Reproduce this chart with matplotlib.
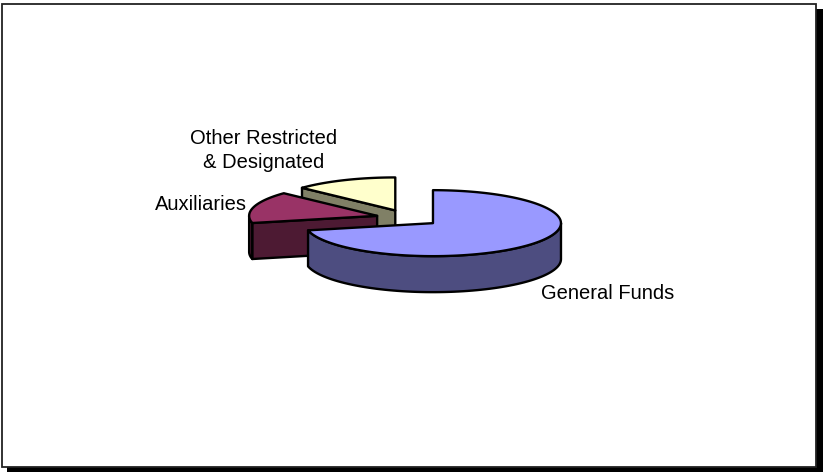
import numpy as np
import matplotlib
matplotlib.use("Agg")
import matplotlib.pyplot as plt
from matplotlib.patches import Polygon, Rectangle

# data
labels = ["General Funds", "Auxiliaries", "Other Restricted\n& Designated"]
shares = [71.5, 15.5, 13.0]
top_colors = ["#9999FF", "#993366", "#FFFFCC"]
side_colors = ["#4D4D80", "#4D1A33", "#808066"]

W, H = 825, 472
fig = plt.figure(figsize=(W / 100, H / 100), dpi=100)
ax = fig.add_axes([0, 0, 1, 1])
ax.set_xlim(0, W)
ax.set_ylim(H, 0)
ax.axis("off")

# frame with drop shadow
ax.add_patch(Rectangle((816, 9), 7, 463, color="black", lw=0, zorder=1))
ax.add_patch(Rectangle((7, 467), 816, 5, color="black", lw=0, zorder=1))
ax.add_patch(Rectangle((1.5, 4), 814.5, 463, facecolor="white", edgecolor="#222222", lw=1.3, zorder=2))

# 3-D pie geometry (pixels)
cx, cy = 408, 218
a, b = 128, 33
depth = 36
explode = 0.25
lw = 1.7


def rim(ox, oy, th, dz=0):
    t = np.radians(th)
    return ox + a * np.cos(t), oy - b * np.sin(t) + dz


# slices go clockwise from 12 o'clock
angles = []
start = 90.0
for s in shares:
    end = start - 360.0 * s / 100.0
    angles.append((end, start))  # counter-clockwise from th1 to th2
    start = end

pieces = []
for i, (th1, th2) in enumerate(angles):
    mid = np.radians((th1 + th2) / 2)
    ox = cx + explode * a * np.cos(mid)
    oy = cy - explode * b * np.sin(mid)
    pieces.append((i, th1, th2, ox, oy))

# paint back slices first
order = [2, 1, 0]
z = 3
for i in order:
    _, th1, th2, ox, oy = pieces[i]
    # radial faces that face the viewer
    for th, normal in ((th1, th1 - 90), (th2, th2 + 90)):
        if np.sin(np.radians(normal)) < -1e-6:
            p = rim(ox, oy, th)
            quad = [(ox, oy), p, (p[0], p[1] + depth), (ox, oy + depth)]
            ax.add_patch(Polygon(quad, closed=True, facecolor=side_colors[i],
                                 edgecolor="black", lw=lw, joinstyle="round", zorder=z))
            z += 1
    # outer curved side, front half only
    lo, hi = th1, th2
    segs = []
    for k in (-360, 0, 360):
        s0 = max(lo + k, 180)
        s1 = min(hi + k, 360)
        if s1 > s0:
            segs.append((s0, s1))
    for s0, s1 in segs:
        ts = np.linspace(s0, s1, 80)
        upper = [rim(ox, oy, t) for t in ts]
        lower = [rim(ox, oy, t, depth) for t in ts[::-1]]
        ax.add_patch(Polygon(upper + lower, closed=True, facecolor=side_colors[i],
                             edgecolor="black", lw=lw, joinstyle="round", zorder=z))
        z += 1
    # top face
    ts = np.linspace(th1, th2, 120)
    top = [(ox, oy)] + [rim(ox, oy, t) for t in ts]
    ax.add_patch(Polygon(top, closed=True, facecolor=top_colors[i],
                         edgecolor="black", lw=lw, joinstyle="round", zorder=z))
    z += 1

font = dict(family=["Liberation Sans", "DejaVu Sans"], fontsize=14.5, color="black")
ax.text(541, 299, labels[0], ha="left", va="baseline", zorder=z, **font)
ax.text(247, 210, labels[1], ha="right", va="baseline", zorder=z, **font)
ax.text(264, 168, labels[2], ha="center", va="baseline", linespacing=1.3, zorder=z, **font)

fig.savefig("out.png", dpi=100)
